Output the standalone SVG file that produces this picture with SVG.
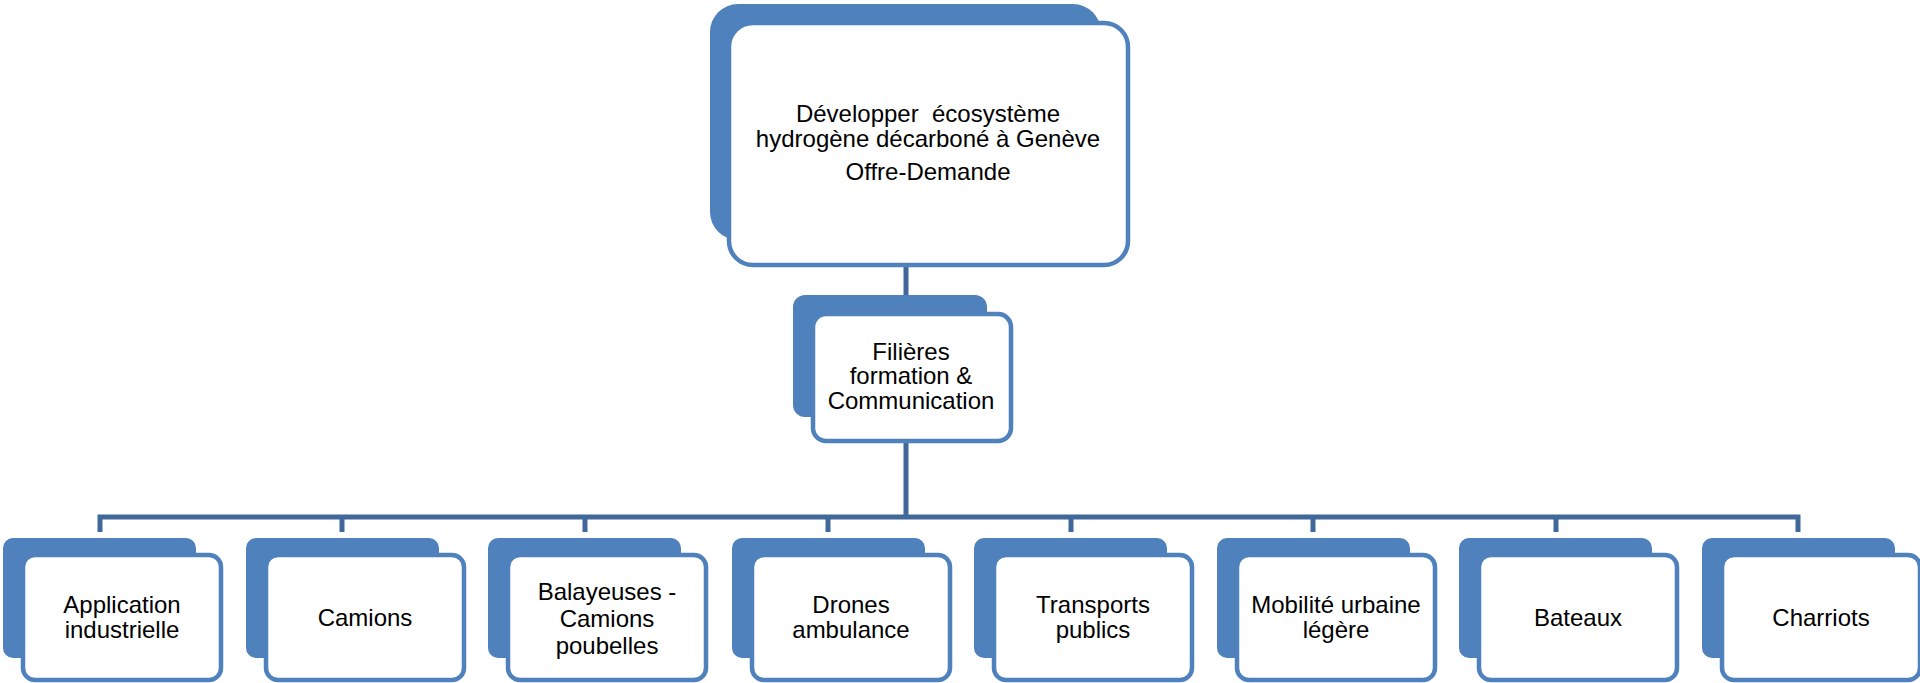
<svg xmlns="http://www.w3.org/2000/svg" width="1920" height="683" viewBox="0 0 1920 683">
<style>
.back{fill:#4F81BD;}
.front{fill:#FFFFFF;stroke:#4F81BD;stroke-width:4.5;}
.conn{fill:none;stroke:#41689A;stroke-width:5;}
text{font-family:"Liberation Sans",Arial,sans-serif;font-size:24px;fill:#000;text-anchor:middle;}
</style>
<rect width="1920" height="683" fill="#fff"/>
<g id="connectors">
<path class="conn" d="M906,265 V295 M906,441 V517 M100,532 V517 H1798 V532 M342,517 V532 M585,517 V532 M828,517 V532 M1071,517 V532 M1313,517 V532 M1556,517 V532"/>
</g>
<g id="node-top">
<rect class="back" x="710" y="4" width="391" height="236" rx="28"/>
<rect class="front" x="729" y="23" width="399" height="242" rx="24"/>
<text x="928" y="122" xml:space="preserve">Développer  écosystème</text>
<text x="928" y="147">hydrogène décarboné à Genève</text>
<text x="928" y="180">Offre-Demande</text>
</g>
<g id="node-filieres">
<rect class="back" x="793" y="295" width="194" height="122" rx="12"/>
<rect class="front" x="813" y="314" width="198" height="127" rx="13"/>
<text x="911" y="360">Filières</text>
<text x="911" y="384">formation &amp;</text>
<text x="911" y="409">Communication</text>
</g>
<g id="node-application">
<rect class="back" x="3" y="538" width="193" height="120" rx="10"/>
<rect class="front" x="23" y="555" width="198" height="125" rx="12"/>
<text x="122" y="613">Application</text>
<text x="122" y="638">industrielle</text>
</g>
<g id="node-camions">
<rect class="back" x="246" y="538" width="193" height="120" rx="10"/>
<rect class="front" x="266" y="555" width="198" height="125" rx="12"/>
<text x="365" y="626">Camions</text>
</g>
<g id="node-balayeuses">
<rect class="back" x="488" y="538" width="193" height="120" rx="10"/>
<rect class="front" x="508" y="555" width="198" height="125" rx="12"/>
<text x="607" y="600">Balayeuses -</text>
<text x="607" y="627">Camions</text>
<text x="607" y="654">poubelles</text>
</g>
<g id="node-drones">
<rect class="back" x="732" y="538" width="193" height="120" rx="10"/>
<rect class="front" x="752" y="555" width="198" height="125" rx="12"/>
<text x="851" y="613">Drones</text>
<text x="851" y="638">ambulance</text>
</g>
<g id="node-transports">
<rect class="back" x="974" y="538" width="193" height="120" rx="10"/>
<rect class="front" x="994" y="555" width="198" height="125" rx="12"/>
<text x="1093" y="613">Transports</text>
<text x="1093" y="638">publics</text>
</g>
<g id="node-mobilite">
<rect class="back" x="1217" y="538" width="193" height="120" rx="10"/>
<rect class="front" x="1237" y="555" width="198" height="125" rx="12"/>
<text x="1336" y="613">Mobilité urbaine</text>
<text x="1336" y="638">légère</text>
</g>
<g id="node-bateaux">
<rect class="back" x="1459" y="538" width="193" height="120" rx="10"/>
<rect class="front" x="1479" y="555" width="198" height="125" rx="12"/>
<text x="1578" y="626">Bateaux</text>
</g>
<g id="node-charriots">
<rect class="back" x="1702" y="538" width="193" height="120" rx="10"/>
<rect class="front" x="1722" y="555" width="198" height="125" rx="12"/>
<text x="1821" y="626">Charriots</text>
</g>
</svg>
